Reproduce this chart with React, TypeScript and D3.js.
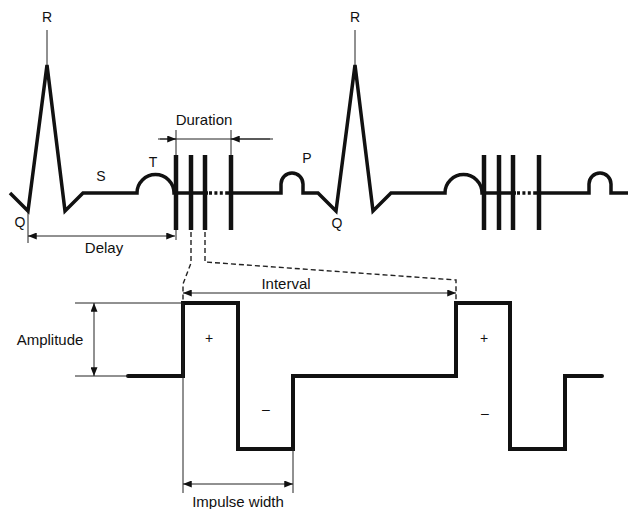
import React from "react";
import * as d3 from "d3";

// ECG: times of the R peaks and the QRS complex around each of them
const rPeaks = [47, 355];
const qrsOffsets = [-37, -19, 0, 18, 36];
const qrsValues = [0, -0.14, 1, -0.14, 0];
// T and P waves (offset from R, start / end)
const tWave = [90, 127];
const pWave = [234, 256];
const pWaveHeight = 0.156;
// stimulation pulses inside the train (offset from R)
const pulseOffsets = [129, 144, 158, 184];
const pulseTop = 0.297;
const pulseBottom = -0.289;

// biphasic stimulus waveform (zoomed view)
const stimTimes = [128, 183, 238, 293, 456, 510, 565, 602];
const stimLevels = [0, 1, -1, 0, 1, -1, 0, 0];

const W = 628;
const H = 509;
const FONT = "'Liberation Sans', Arial, sans-serif";

export default function App() {
  const x = d3.scaleLinear().domain([0, W]).range([0, W]);
  const yEcg = d3.scaleLinear().domain([-1, 1]).range([321, 65]);
  const yStim = d3.scaleLinear().domain([-1, 1]).range([449, 303]);
  const y0 = yEcg(0);

  // build the ECG trace
  const ecg = d3.path();
  rPeaks.forEach((r, i) => {
    qrsOffsets.forEach((o, j) => {
      const px = x(r + o);
      const py = yEcg(qrsValues[j]);
      if (i === 0 && j === 0) ecg.moveTo(px, py);
      else ecg.lineTo(px, py);
    });
    // T wave: round bump
    const tr = (x(r + tWave[1]) - x(r + tWave[0])) / 2;
    ecg.lineTo(x(r + tWave[0]), y0);
    ecg.arc(x(r + tWave[0]) + tr, y0, tr, Math.PI, 2 * Math.PI);
    // baseline through the pulse train, gap for the dots
    ecg.lineTo(x(r + pulseOffsets[2] + 3), y0);
    ecg.moveTo(x(r + pulseOffsets[3] - 3), y0);
    // P wave: narrow bump with straight sides
    const pr = (x(r + pWave[1]) - x(r + pWave[0])) / 2;
    const pTop = yEcg(pWaveHeight);
    ecg.lineTo(x(r + pWave[0]), y0);
    ecg.lineTo(x(r + pWave[0]), pTop + pr);
    ecg.arc(x(r + pWave[0]) + pr, pTop + pr, pr, Math.PI, 2 * Math.PI);
    ecg.lineTo(x(r + pWave[1]), y0);
    if (i < rPeaks.length - 1) ecg.lineTo(x(rPeaks[i + 1] + qrsOffsets[0]), y0);
    else ecg.lineTo(x(W), y0);
  });

  const stimLine = d3
    .line<number>()
    .x((d) => x(d))
    .y((d, i) => yStim(stimLevels[i]))
    .curve(d3.curveStepAfter);

  const r0 = rPeaks[0];
  const qX = x(r0 + qrsOffsets[1]);
  const p1 = x(r0 + pulseOffsets[0]);
  const p2 = x(r0 + pulseOffsets[1]);
  const p3 = x(r0 + pulseOffsets[2]);
  const pLast = x(r0 + pulseOffsets[3]);
  const s0 = x(stimTimes[1]);
  const s1 = x(stimTimes[3]);
  const s2 = x(stimTimes[4]);

  const thin = { stroke: "#222", strokeWidth: 1, fill: "none" };
  const big = { fontFamily: FONT, fontSize: 15, fill: "#111", textAnchor: "middle" as const };
  const small = { fontFamily: FONT, fontSize: 14, fill: "#111", textAnchor: "middle" as const };

  return (
    <svg
      width={W}
      height={H}
      style={{ position: "absolute", left: 0, top: 0, background: "#fff" }}
    >
      <defs>
        <marker
          id="arr"
          viewBox="0 0 10 8"
          refX={10}
          refY={4}
          markerWidth={9}
          markerHeight={7}
          markerUnits="userSpaceOnUse"
          orient="auto-start-reverse"
        >
          <path d="M0,0L10,4L0,8Z" fill="#111" />
        </marker>
      </defs>

      {/* ECG trace */}
      <path d={ecg.toString()} fill="none" stroke="#111" strokeWidth={3.5} strokeLinejoin="miter" />
      {rPeaks.map((r) => (
        <g key={r}>
          {pulseOffsets.map((o) => (
            <line
              key={o}
              x1={x(r + o)}
              x2={x(r + o)}
              y1={yEcg(pulseTop)}
              y2={yEcg(pulseBottom)}
              stroke="#111"
              strokeWidth={4.5}
            />
          ))}
          <line
            x1={x(r + pulseOffsets[2] + 4)}
            x2={x(r + pulseOffsets[3] - 3)}
            y1={y0}
            y2={y0}
            stroke="#111"
            strokeWidth={3.5}
            strokeDasharray="3 2.4"
          />
          <line x1={x(r)} x2={x(r)} y1={30} y2={yEcg(1)} {...thin} />
          <text x={x(r)} y={22} {...small}>R</text>
        </g>
      ))}

      {/* wave labels */}
      <text x={qX - 8} y={227} {...small}>Q</text>
      <text x={x(rPeaks[1] + qrsOffsets[1]) + 1} y={228} {...small}>Q</text>
      <text x={101} y={181} {...small}>S</text>
      <text x={153} y={167} {...small}>T</text>
      <text x={307} y={163} {...small}>P</text>

      {/* Delay */}
      <line x1={qX} x2={qX} y1={yEcg(qrsValues[1])} y2={243} {...thin} />
      <line x1={p1} x2={p1} y1={yEcg(pulseBottom)} y2={240} {...thin} />
      <line x1={qX} x2={p1 - 1} y1={236} y2={236} {...thin} markerStart="url(#arr)" markerEnd="url(#arr)" />
      <text x={104} y={253} {...big}>Delay</text>

      {/* Duration */}
      <line x1={p1} x2={p1} y1={130} y2={yEcg(pulseTop)} {...thin} />
      <line x1={pLast} x2={pLast} y1={130} y2={yEcg(pulseTop)} {...thin} />
      <line x1={158} x2={273} y1={139} y2={139} {...thin} />
      <line x1={160} x2={p1} y1={139} y2={139} {...thin} markerEnd="url(#arr)" />
      <line x1={270} x2={pLast} y1={139} y2={139} {...thin} markerEnd="url(#arr)" />
      <text x={204} y={125} {...big}>Duration</text>

      {/* dashed zoom lines */}
      <path
        d={`M${p2},232L${p2},263L${s0},284L${s0},${yStim(1)}`}
        fill="none"
        stroke="#222"
        strokeWidth={1.4}
        strokeDasharray="5 3"
      />
      <path
        d={`M${p3},232L${p3},262L${s2},280L${s2},${yStim(1)}`}
        fill="none"
        stroke="#222"
        strokeWidth={1.4}
        strokeDasharray="5 3"
      />

      {/* stimulus waveform */}
      <path
        d={stimLine(stimTimes) ?? ""}
        fill="none"
        stroke="#111"
        strokeWidth={4}
        strokeLinejoin="miter"
        strokeLinecap="round"
      />
      <text x={209} y={343} {...small}>+</text>
      <text x={266} y={414} {...small}>–</text>
      <text x={484} y={343} {...small}>+</text>
      <text x={485} y={418} {...small}>–</text>

      {/* Interval */}
      <line x1={s0} x2={s2} y1={293} y2={293} {...thin} markerStart="url(#arr)" markerEnd="url(#arr)" />
      <text x={286} y={289} {...big}>Interval</text>

      {/* Amplitude */}
      <line x1={75} x2={s0} y1={yStim(1)} y2={yStim(1)} {...thin} />
      <line x1={75} x2={x(stimTimes[0])} y1={yStim(0)} y2={yStim(0)} {...thin} />
      <line x1={94} x2={94} y1={yStim(1)} y2={yStim(0)} {...thin} markerStart="url(#arr)" markerEnd="url(#arr)" />
      <text x={50} y={345} {...big}>Amplitude</text>

      {/* Impulse width */}
      <line x1={s0} x2={s0} y1={yStim(1)} y2={493} {...thin} />
      <line x1={s1} x2={s1} y1={yStim(-1)} y2={493} {...thin} />
      <line x1={s0} x2={s1} y1={484} y2={484} {...thin} markerStart="url(#arr)" markerEnd="url(#arr)" />
      <text x={238} y={507} {...big}>Impulse width</text>
    </svg>
  );
}
